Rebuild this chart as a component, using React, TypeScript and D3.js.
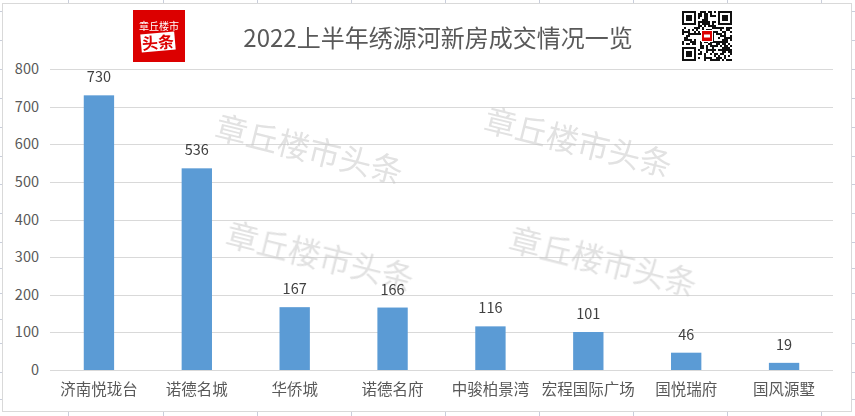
import React, { useEffect } from "react";
import * as d3 from "d3";

const projects = ["济南悦珑台", "诺德名城", "华侨城", "诺德名府", "中骏柏景湾", "宏程国际广场", "国悦瑞府", "国风源墅"];
const sales = [730, 536, 167, 166, 116, 101, 46, 19];
const yTicks = [0, 100, 200, 300, 400, 500, 600, 700, 800];
const title = "2022上半年绣源河新房成交情况一览";
const watermark = "章丘楼市头条";

// sheet grid behind the chart object
const sheetCols = [68, 163, 257, 351, 445, 539, 633, 727, 821];
const sheetRows = [11, 40, 69, 98, 127, 156, 184, 213, 242, 268, 293, 319, 343, 372, 399];

const W = 855;
const H = 416;
const margin = { left: 50, right: 22, top: 69, bottom: 46 };
const font = "'Noto Sans CJK SC', 'Noto Sans', sans-serif";

// deterministic pseudo QR modules (decoration only)
function qrCell(i: number, j: number) {
  const h = Math.sin(i * 12.9898 + j * 78.233) * 43758.5453;
  return h - Math.floor(h) > 0.5;
}

const App: React.FC = () => {
  useEffect(() => {
    document.body.style.margin = "0";
  }, []);

  const x = d3
    .scaleBand<string>()
    .domain(projects)
    .range([margin.left, W - margin.right])
    .paddingInner(0.69)
    .paddingOuter(0.345);

  const y = d3
    .scaleLinear()
    .domain([0, 800])
    .range([H - margin.bottom, margin.top]);

  const qrN = 25;
  const qrSize = 2;
  const qrX = 682;
  const qrY = 11;
  const inFinder = (i: number, j: number) =>
    (i < 8 && j < 8) || (i >= qrN - 8 && j < 8) || (i < 8 && j >= qrN - 8);
  const qrMods: [number, number][] = [];
  for (let i = 0; i < qrN; i++)
    for (let j = 0; j < qrN; j++)
      if (!inFinder(i, j) && qrCell(i, j)) qrMods.push([i, j]);
  const finders = [
    [0, 0],
    [qrN - 7, 0],
    [0, qrN - 7],
  ];

  const wmPos = [
    [309, 150],
    [578, 143],
    [320, 257],
    [603, 262],
  ];

  return (
    <svg width={W} height={H} style={{ display: "block", background: "#fff" }}>
      {/* spreadsheet grid peeking around the chart */}
      <g stroke="#c9cedb" strokeWidth={1}>
        {sheetCols.map((c) => (
          <g key={"c" + c}>
            <line x1={c + 0.5} x2={c + 0.5} y1={0} y2={3} />
            <line x1={c + 0.5} x2={c + 0.5} y1={412} y2={H} />
          </g>
        ))}
        {sheetRows.map((r) => (
          <g key={"r" + r}>
            <line x1={0} x2={2} y1={r + 0.5} y2={r + 0.5} />
            <line x1={852} x2={W} y1={r + 0.5} y2={r + 0.5} />
          </g>
        ))}
      </g>
      <rect x={2.5} y={3.5} width={849} height={408} fill="#fff" stroke="#d9d9d9" />

      {/* gridlines */}
      <g>
        {yTicks.map((t) => (
          <line
            key={t}
            x1={margin.left}
            x2={W - margin.right}
            y1={Math.round(y(t)) + 0.5}
            y2={Math.round(y(t)) + 0.5}
            stroke="#d9d9d9"
            strokeWidth={1}
          />
        ))}
      </g>
      <g fontFamily={font} fontSize={14.5} fill="#595959" textAnchor="end">
        {yTicks.map((t) => (
          <text key={t} x={39} y={y(t) + 5}>
            {t}
          </text>
        ))}
      </g>

      {/* watermarks */}
      <g fontFamily={font} fontSize={32} fill="#c4c4c4" opacity={0.5} textAnchor="middle">
        {wmPos.map(([cx, cy], i) => (
          <text key={i} x={cx} y={cy + 11} transform={`rotate(14 ${cx} ${cy})`}>
            {watermark}
          </text>
        ))}
      </g>

      {/* bars */}
      <g>
        {projects.map((p, i) => (
          <rect
            key={p}
            x={x(p)}
            y={y(sales[i])}
            width={x.bandwidth()}
            height={y(0) - y(sales[i])}
            fill="#5b9bd5"
          />
        ))}
      </g>
      <g fontFamily={font} fontSize={14.5} fill="#404040" textAnchor="middle">
        {projects.map((p, i) => (
          <text key={p} x={(x(p) ?? 0) + x.bandwidth() / 2} y={y(sales[i]) - 13}>
            {sales[i]}
          </text>
        ))}
      </g>
      <g fontFamily={font} fontSize={15.5} fill="#595959" textAnchor="middle">
        {projects.map((p) => (
          <text key={p} x={(x(p) ?? 0) + x.bandwidth() / 2} y={395}>
            {p}
          </text>
        ))}
      </g>

      {/* title */}
      <text x={438} y={47} textAnchor="middle" fontFamily={font} fontSize={24} fill="#595959">
        {title}
      </text>

      {/* logo */}
      <g>
        <rect x={133} y={10} width={52} height={52} fill="#dc0000" />
        <text x={159} y={30} textAnchor="middle" fontFamily={font} fontSize={10} fill="#fff">
          章丘楼市
        </text>
        <g transform="rotate(-5 158 42)">
          <rect x={141} y={33} width={34} height={18} fill="#fff" />
          <text x={158} y={48.5} textAnchor="middle" fontFamily={font} fontSize={16} fontWeight="bold" fill="#dc0000">
            头条
          </text>
        </g>
      </g>

      {/* qr code */}
      <g>
        <rect x={qrX - 1} y={qrY - 1} width={qrN * qrSize + 2} height={qrN * qrSize + 2} fill="#fff" />
        {qrMods.map(([i, j]) => (
          <rect key={i + "-" + j} x={qrX + i * qrSize} y={qrY + j * qrSize} width={qrSize} height={qrSize} fill="#111" />
        ))}
        {finders.map(([fi, fj], k) => (
          <g key={k}>
            <rect x={qrX + fi * qrSize + 1} y={qrY + fj * qrSize + 1} width={12} height={12} fill="none" stroke="#111" strokeWidth={2} />
            <rect x={qrX + fi * qrSize + 4} y={qrY + fj * qrSize + 4} width={6} height={6} fill="#111" />
          </g>
        ))}
        <rect x={qrX + 19} y={qrY + 19} width={12} height={12} fill="#fff" />
        <rect x={qrX + 20} y={qrY + 20} width={10} height={10} fill="#dc0000" />
        <rect x={qrX + 22} y={qrY + 23.5} width={6} height={3} fill="#fff" />
      </g>
    </svg>
  );
};

export default App;
